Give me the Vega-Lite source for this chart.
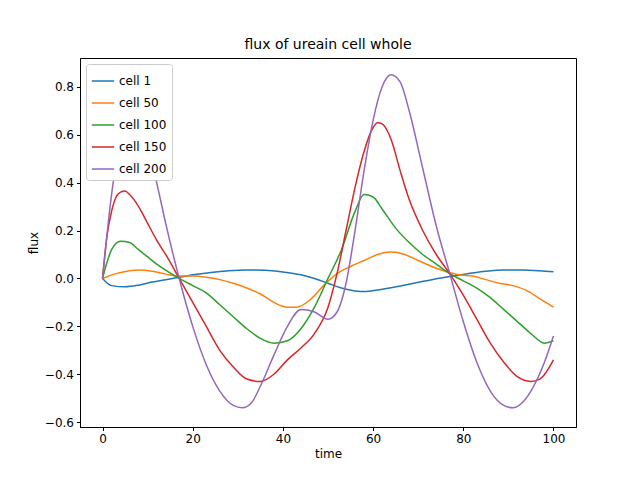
{
  "$schema": "https://vega.github.io/schema/vega-lite/v6.json",
  "width": 496,
  "height": 369,
  "autosize": "none",
  "padding": {"left": 80, "top": 58, "right": 64, "bottom": 53},
  "background": "white",
  "title": {"text": "flux of ureain cell whole", "font": "DejaVu Sans", "fontSize": 14, "fontWeight": "normal", "offset": 6},
  "datasets": {
    "c1": [[0,0],[2,-0.03],[5,-0.035],[8,-0.028],[11,-0.015],[14,-0.005],[17,0.005],[20,0.015],[24,0.025],[28,0.032],[32,0.035],[36,0.034],[40,0.027],[44,0.015],[47,0],[50,-0.02],[53,-0.04],[56,-0.052],[58,-0.055],[61,-0.048],[65,-0.035],[69,-0.02],[73,-0.005],[77,0.008],[81,0.02],[85,0.03],[89,0.035],[93,0.035],[97,0.032],[100,0.028]],
    "c50": [[0,0],[3,0.02],[6,0.032],[8,0.035],[11,0.03],[14,0.018],[17,0.01],[20,0.01],[23,0.005],[26,-0.005],[29,-0.02],[32,-0.04],[35,-0.065],[38,-0.1],[41,-0.12],[43,-0.12],[46,-0.09],[49,-0.03],[52,0.02],[55,0.05],[58,0.075],[61,0.1],[64,0.11],[67,0.1],[70,0.075],[73,0.05],[76,0.03],[79,0.015],[82,0.01],[85,-0.005],[88,-0.02],[91,-0.03],[94,-0.05],[97,-0.085],[100,-0.12]],
    "c100": [[0,0],[2,0.12],[4,0.155],[6,0.15],[8,0.12],[10,0.09],[12,0.06],[14,0.035],[17,0],[20,-0.03],[23,-0.06],[26,-0.11],[29,-0.16],[32,-0.21],[35,-0.25],[38,-0.27],[41,-0.26],[44,-0.21],[47,-0.12],[50,0],[53,0.12],[56,0.28],[58,0.35],[60,0.34],[62,0.29],[65,0.21],[68,0.15],[71,0.1],[74,0.06],[77,0.02],[80,-0.01],[83,-0.04],[86,-0.08],[89,-0.13],[92,-0.18],[95,-0.23],[98,-0.27],[100,-0.26]],
    "c150": [[0,0],[1,0.18],[2,0.28],[3,0.34],[4,0.36],[5,0.365],[6,0.35],[8,0.3],[10,0.23],[12,0.16],[14,0.1],[17,0],[20,-0.1],[23,-0.2],[26,-0.3],[29,-0.37],[32,-0.42],[35,-0.43],[38,-0.4],[41,-0.34],[44,-0.29],[47,-0.23],[50,-0.12],[52,0.02],[54,0.2],[56,0.38],[58,0.53],[60,0.63],[61,0.65],[62,0.645],[64,0.58],[66,0.45],[68,0.33],[71,0.2],[74,0.1],[77,0.02],[80,-0.07],[83,-0.17],[86,-0.27],[89,-0.35],[92,-0.41],[95,-0.43],[97,-0.42],[100,-0.34]],
    "c200": [[0,0],[2,0.35],[4,0.58],[6,0.66],[7,0.67],[8,0.65],[10,0.55],[12,0.4],[14,0.23],[17,0],[20,-0.2],[23,-0.36],[26,-0.47],[29,-0.53],[31,-0.54],[33,-0.52],[35,-0.45],[38,-0.32],[41,-0.2],[44,-0.13],[47,-0.14],[50,-0.17],[52,-0.14],[54,-0.02],[56,0.2],[58,0.45],[60,0.66],[62,0.8],[64,0.85],[66,0.82],[68,0.7],[71,0.46],[74,0.22],[77,0.02],[80,-0.18],[83,-0.35],[86,-0.47],[89,-0.53],[91,-0.54],[93,-0.52],[95,-0.47],[98,-0.35],[100,-0.24]]
  },
  "layer": [
    {"data": {"name": "c1"}, "transform": [{"calculate": "'cell 1'", "as": "series"}, {"calculate": "datum[0]", "as": "time"}, {"calculate": "datum[1]", "as": "flux"}], "mark": {"type": "line", "strokeWidth": 1.5, "interpolate": "monotone"}, "encoding": {"x": {"field": "time", "type": "quantitative"}, "y": {"field": "flux", "type": "quantitative"}, "color": {"field": "series", "type": "nominal"}}},
    {"data": {"name": "c50"}, "transform": [{"calculate": "'cell 50'", "as": "series"}, {"calculate": "datum[0]", "as": "time"}, {"calculate": "datum[1]", "as": "flux"}], "mark": {"type": "line", "strokeWidth": 1.5, "interpolate": "monotone"}, "encoding": {"x": {"field": "time", "type": "quantitative"}, "y": {"field": "flux", "type": "quantitative"}, "color": {"field": "series", "type": "nominal"}}},
    {"data": {"name": "c100"}, "transform": [{"calculate": "'cell 100'", "as": "series"}, {"calculate": "datum[0]", "as": "time"}, {"calculate": "datum[1]", "as": "flux"}], "mark": {"type": "line", "strokeWidth": 1.5, "interpolate": "monotone"}, "encoding": {"x": {"field": "time", "type": "quantitative"}, "y": {"field": "flux", "type": "quantitative"}, "color": {"field": "series", "type": "nominal"}}},
    {"data": {"name": "c150"}, "transform": [{"calculate": "'cell 150'", "as": "series"}, {"calculate": "datum[0]", "as": "time"}, {"calculate": "datum[1]", "as": "flux"}], "mark": {"type": "line", "strokeWidth": 1.5, "interpolate": "monotone"}, "encoding": {"x": {"field": "time", "type": "quantitative"}, "y": {"field": "flux", "type": "quantitative"}, "color": {"field": "series", "type": "nominal"}}},
    {"data": {"name": "c200"}, "transform": [{"calculate": "'cell 200'", "as": "series"}, {"calculate": "datum[0]", "as": "time"}, {"calculate": "datum[1]", "as": "flux"}], "mark": {"type": "line", "strokeWidth": 1.5, "interpolate": "monotone"}, "encoding": {"x": {"field": "time", "type": "quantitative"}, "y": {"field": "flux", "type": "quantitative"}, "color": {"field": "series", "type": "nominal"}}}
  ],
  "resolve": {"scale": {"x": "shared", "y": "shared", "color": "shared"}},
  "encoding": {
    "x": {"field": "time", "type": "quantitative", "scale": {"domain": [-5, 105], "nice": false, "zero": false}, "axis": {"title": "time", "values": [0, 20, 40, 60, 80, 100], "grid": false}},
    "y": {"field": "flux", "type": "quantitative", "scale": {"domain": [-0.62, 0.92], "nice": false, "zero": false}, "axis": {"title": "flux", "values": [-0.6, -0.4, -0.2, 0, 0.2, 0.4, 0.6, 0.8], "format": ".1f", "grid": false}},
    "color": {"field": "series", "type": "nominal", "scale": {"domain": ["cell 1", "cell 50", "cell 100", "cell 150", "cell 200"], "range": ["#1f77b4", "#ff7f0e", "#2ca02c", "#d62728", "#9467bd"]}, "legend": {"title": null, "orient": "none", "legendX": 6, "legendY": 6, "symbolType": "stroke", "symbolSize": 500, "symbolStrokeWidth": 1.5, "labelFontSize": 12, "labelFont": "DejaVu Sans", "rowPadding": 4, "fillColor": "white", "strokeColor": "#cccccc", "padding": 5, "cornerRadius": 3}}
  },
  "config": {
    "view": {"stroke": "black", "strokeWidth": 1},
    "axis": {"labelFont": "DejaVu Sans", "titleFont": "DejaVu Sans", "labelFontSize": 12, "titleFontSize": 12, "titleFontWeight": "normal", "labelColor": "black", "titleColor": "black", "domainColor": "black", "tickColor": "black", "tickSize": 3.5, "labelPadding": 3}
  }
}
